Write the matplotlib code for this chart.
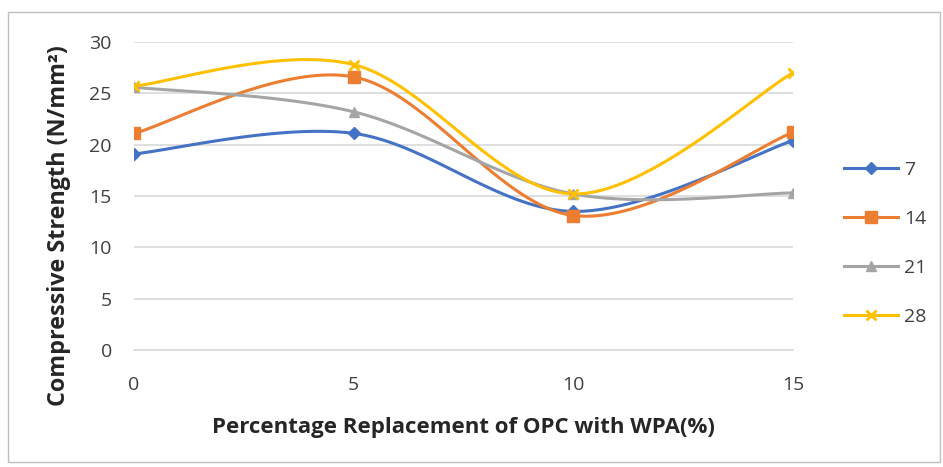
import numpy as np
import matplotlib
matplotlib.use("Agg")
import matplotlib.pyplot as plt
from matplotlib.patches import Rectangle

x_values = [0, 5, 10, 15]
series_names = ["7", "14", "21", "28"]
s7 = [19.1, 21.1, 13.5, 20.4]
s14 = [21.1, 26.6, 13.1, 21.2]
s21 = [25.6, 23.2, 15.2, 15.3]
s28 = [25.7, 27.8, 15.2, 27.0]
y_ticks = [0, 5, 10, 15, 20, 25, 30]

colors = ["#4472C4", "#ED7D31", "#A5A5A5", "#FFC000"]
markers = ["D", "s", "^", "x"]
msizes = [6, 8, 7, 7]

plt.rcParams['font.family'] = ['Open Sans', 'DejaVu Sans']


def excel_smooth(xs, ys, n=40):
    xs = np.asarray(xs, float)
    ys = np.asarray(ys, float)
    P = np.column_stack([xs, ys])
    out = []
    for i in range(len(P) - 1):
        p0 = P[i - 1] if i > 0 else P[i]
        p1 = P[i]
        p2 = P[i + 1]
        p3 = P[i + 2] if i + 2 < len(P) else P[i + 1]
        c1 = p1 + (p2 - p0) / 6.0
        c2 = p2 - (p3 - p1) / 6.0
        t = np.linspace(0, 1, n)[:, None]
        seg = ((1 - t) ** 3) * p1 + 3 * ((1 - t) ** 2) * t * c1 + 3 * (1 - t) * t ** 2 * c2 + t ** 3 * p2
        out.append(seg if i == 0 else seg[1:])
    seg = np.vstack(out)
    return seg[:, 0], seg[:, 1]


fig = plt.figure(figsize=(9.43, 4.67), dpi=100)
fig.patches.append(Rectangle((0.009, 0.011), 0.988, 0.963, transform=fig.transFigure,
                             fill=False, edgecolor="#BFBFBF", linewidth=1))
ax = fig.add_axes([134 / 943, 1 - 350 / 467, (793 - 134) / 943, (350 - 42) / 467])

for name, ys, c, m, ms in zip(series_names, [s7, s14, s21, s28], colors, markers, msizes):
    sx, sy = excel_smooth(x_values, ys)
    ax.plot(sx, sy, color=c, lw=2.2, zorder=3)
    mew = 2 if m == "x" else 1
    ax.plot(x_values, ys, linestyle="none", marker=m, color=c, markersize=ms,
            markeredgewidth=mew, zorder=4)
    ax.plot([], [], color=c, lw=2.2, marker=m, markersize=ms, markeredgewidth=mew, label=name)

ax.set_xlim(0, 15)
ax.set_ylim(0, 30)
ax.set_yticks(y_ticks)
ax.set_xticks(x_values)
ax.grid(axis="y", color="#D9D9D9", linewidth=1.2)
ax.set_axisbelow(True)
for s in ["top", "right", "left"]:
    ax.spines[s].set_visible(False)
ax.spines["bottom"].set_color("#D9D9D9")
ax.spines["bottom"].set_linewidth(1.2)
ax.tick_params(length=0, labelsize=14, labelcolor="#404040")
ax.tick_params(axis="y", pad=16)
ax.tick_params(axis="x", pad=19)
ax.set_xlabel("Percentage Replacement of OPC with WPA(%)", fontsize=16, fontweight="bold",
              color="#262626", labelpad=16)
ax.set_ylabel("Compressive Strength (N/mm²)", fontsize=16.8, fontweight="bold",
              color="#262626")
ax.yaxis.set_label_coords(-0.095, 0.403)

leg = fig.legend(loc="center left", bbox_to_anchor=(0.876, 0.479), frameon=False,
                 fontsize=14, labelspacing=1.6, handlelength=2.8, handletextpad=0.3)
for t in leg.get_texts():
    t.set_color("#404040")

fig.savefig("out.png", dpi=100)
